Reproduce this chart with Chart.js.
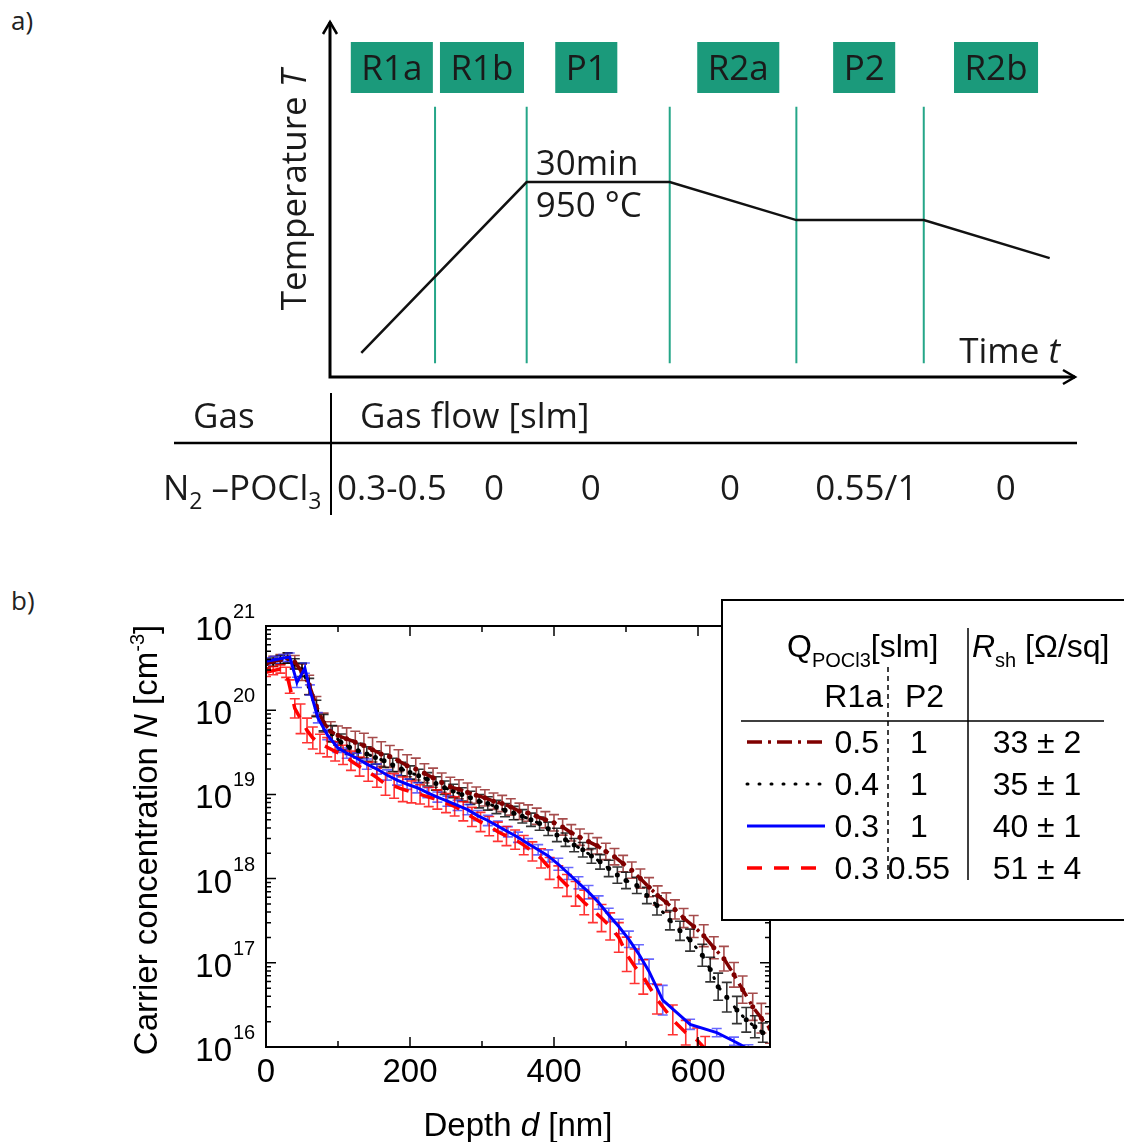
<!DOCTYPE html>
<html>
<head>
<meta charset="utf-8">
<script src="https://cdn.jsdelivr.net/npm/chart.js@4.4.1/dist/chart.umd.min.js"></script>
<style>
body { margin: 0; background: #fff; }
#page { position: relative; width: 1124px; height: 1142px; overflow: hidden; }
.lbl { position: absolute; font-family: "Open Sans", sans-serif; font-size: 26px; color: #222; }
canvas { position: absolute; left: 0; }
</style>
</head>
<body>
<div id="page">
  <div class="lbl" style="left:11px;top:2px">a)</div>
  <div class="lbl" style="left:11px;top:582px">b)</div>
  <canvas id="tempChart" width="1124" height="540" style="top:0"></canvas>
  <canvas id="profileChart" width="1124" height="562" style="top:580px"></canvas>
</div>
<script>
// ---- panel a: process scheme (time / temperature in arbitrary units 0-100)
var phaseNames = ['R1a', 'R1b', 'P1', 'R2a', 'P2', 'R2b'];
var phaseMid = [8.3, 20.4, 34.4, 54.8, 71.7, 89.4];
var gasFlow = ['0.3-0.5', '0', '0', '0', '0.55/1', '0'];
var gasFlowAt = [8.3, 22.0, 35.0, 53.7, 72.0, 90.7];
var profileTime = [4.2, 26.4, 45.6, 62.6, 79.7, 96.6];
var profileTemp = [6.8, 54.9, 54.9, 44.2, 44.2, 33.5];
var boundaryTime = [14.1, 26.4, 45.6, 62.6, 79.7];
var boundaryTemp = [3.9, 76.1];

// ---- panel b: carrier concentration profiles
// Q_POCl3 R1a 0.5 / P2 1
var depth05 = [0, 10, 20, 30, 40, 50, 60, 70, 80, 90, 100,
  112, 124, 136, 148, 160, 172, 184, 196, 208, 220, 232, 244, 256, 268, 280, 292, 304, 316, 328,
  340, 352, 364, 376, 388, 400, 412, 424, 436, 448, 460, 472, 484, 496, 508, 520, 532, 544, 556, 568, 580,
  594, 608, 622, 636, 650, 662, 676, 688, 700];
var conc05 = [3.55e20, 3.8e20, 3.98e20, 4.17e20, 3.72e20, 2.82e20, 2.0e20, 1.12e20, 7.1e19, 5.6e19, 5.0e19,
  4.57e19, 4.17e19, 3.8e19, 3.39e19, 3.02e19, 2.82e19, 2.51e19, 2.19e19, 2.0e19, 1.78e19, 1.58e19, 1.38e19, 1.23e19, 1.15e19, 1.05e19, 9.8e18, 9.1e18, 8.3e18, 7.8e18,
  7.1e18, 6.3e18, 6.0e18, 5.5e18, 5.0e18, 4.6e18, 4.1e18, 3.5e18, 3.1e18, 2.75e18, 2.45e18, 2.1e18, 1.82e18, 1.51e18, 1.26e18, 1.0e18, 7.9e17, 6.3e17, 5.2e17, 4.3e17, 3.4e17,
  2.7e17, 2.1e17, 1.51e17, 1.12e17, 7.2e16, 4.8e16, 3.0e16, 2.2e16, 1.66e16];
var err05 = [0.15, 0.15, 0.15, 0.15, 0.2, 0.25, 0.3, 0.3, 0.3, 0.3, 0.3,
  0.35, 0.35, 0.4, 0.4, 0.4, 0.35, 0.35, 0.35, 0.35, 0.3, 0.3, 0.3, 0.3, 0.3, 0.3, 0.25, 0.25, 0.25, 0.25,
  0.25, 0.25, 0.25, 0.25, 0.25, 0.25, 0.25, 0.25, 0.25, 0.25, 0.25, 0.25, 0.25, 0.25, 0.25, 0.3, 0.3, 0.3, 0.3, 0.3, 0.3,
  0.35, 0.35, 0.35, 0.4, 0.4, 0.45, 0.45, 0.5, 0.5];

// Q_POCl3 R1a 0.4 / P2 1
var depth04 = [0, 10, 20, 30, 40, 50, 60, 70, 80,
  92, 104, 116, 128, 140, 152, 164, 176, 188, 200, 212, 224, 236, 248, 260, 272, 284, 296, 308, 320,
  332, 344, 356, 368, 380, 392, 404, 416, 428, 440, 452, 464, 476, 488, 500,
  515, 529, 543, 561, 575, 589, 606, 617, 628, 640, 654, 667, 679, 690];
var conc04 = [3.55e20, 3.72e20, 3.98e20, 4.17e20, 3.55e20, 3.02e20, 1.91e20, 1.05e20, 7.1e19,
  5.25e19, 4.17e19, 3.63e19, 3.31e19, 3.02e19, 2.75e19, 2.51e19, 2.24e19, 2.0e19, 1.82e19, 1.66e19, 1.51e19, 1.35e19, 1.2e19, 1.1e19, 1.0e19, 9.1e18, 8.3e18, 7.8e18, 7.1e18,
  6.5e18, 6.0e18, 5.5e18, 5.0e18, 4.5e18, 3.9e18, 3.3e18, 2.9e18, 2.5e18, 2.2e18, 1.86e18, 1.58e18, 1.32e18, 1.1e18, 9.5e17,
  8.3e17, 6.3e17, 4.8e17, 3.2e17, 2.4e17, 1.86e17, 1.23e17, 8.3e16, 5.2e16, 3.9e16, 2.75e16, 2.1e16, 1.74e16, 1.48e16];
var err04 = [0.12, 0.12, 0.12, 0.15, 0.15, 0.2, 0.25, 0.25, 0.25,
  0.25, 0.25, 0.22, 0.22, 0.22, 0.2, 0.2, 0.2, 0.2, 0.2, 0.2, 0.2, 0.2, 0.2, 0.2, 0.2, 0.2, 0.2, 0.2, 0.2,
  0.2, 0.2, 0.2, 0.2, 0.2, 0.2, 0.2, 0.2, 0.2, 0.22, 0.22, 0.22, 0.25, 0.25, 0.25,
  0.25, 0.25, 0.3, 0.3, 0.3, 0.35, 0.35, 0.4, 0.45, 0.5, 0.45, 0.4, 0.35, 0.3];

// Q_POCl3 R1a 0.3 / P2 1
var depth03 = [0, 12, 24, 33, 43, 54, 61, 72, 85, 99, 112, 126, 140, 154, 168, 182, 196, 210, 224, 238,
  252, 266, 280, 294, 308, 322, 336, 350, 364, 378, 392, 406, 420, 434, 448, 462, 476, 490, 504, 518,
  532, 551, 589, 626, 650, 670];
var conc03 = [3.8e20, 3.98e20, 4.17e20, 4.27e20, 2.14e20, 3.16e20, 1.74e20, 8.13e19, 5.13e19, 3.63e19, 3.09e19, 2.69e19, 2.29e19, 2.0e19, 1.7e19, 1.48e19, 1.32e19, 1.2e19, 1.05e19, 9.3e18,
  8.3e18, 7.4e18, 6.6e18, 5.6e18, 4.9e18, 4.2e18, 3.6e18, 3.1e18, 2.6e18, 2.2e18, 1.86e18, 1.48e18, 1.15e18, 8.9e17, 6.9e17, 5.2e17, 3.7e17, 2.7e17, 1.9e17, 1.26e17,
  7.9e16, 3.6e16, 1.86e16, 1.48e16, 1.17e16, 9.5e15];
var err03 = [0.1, 0.1, 0.1, 0.12, 0.15, 0.15, 0.15, 0.15, 0.15, 0.15, 0.15, 0.15, 0.15, 0.15, 0.15, 0.15, 0.15, 0.15, 0.15, 0.15,
  0.15, 0.15, 0.15, 0.15, 0.15, 0.15, 0.15, 0.15, 0.15, 0.15, 0.18, 0.18, 0.18, 0.18, 0.2, 0.2, 0.2, 0.22, 0.25, 0.3,
  0.4, 0.5, 0.15, 0.12, 0.12, 0.12];

// Q_POCl3 R1a 0.3 / P2 0.55
var depth03b = [0, 10, 20, 28, 33, 40, 48, 57, 65, 75, 85, 96, 107, 118, 130, 142, 154, 166, 178, 190,
  202, 214, 226, 238, 250, 262, 274, 286, 298, 310, 322, 334, 346, 358, 370, 382, 394, 406, 418, 430,
  442, 454, 466, 478, 490, 501, 512, 524, 543, 565, 583, 599, 610];
var conc03b = [2.82e20, 2.95e20, 3.09e20, 2.82e20, 1.91e20, 1.05e20, 7.9e19, 5.75e19, 4.68e19, 3.98e19, 3.63e19, 3.24e19, 2.95e19, 2.51e19, 2.14e19, 1.86e19, 1.58e19, 1.32e19, 1.26e19, 1.15e19,
  1.07e19, 1.0e19, 9.3e18, 8.7e18, 7.9e18, 7.2e18, 6.3e18, 5.4e18, 4.7e18, 4.2e18, 3.6e18, 3.2e18, 2.9e18, 2.5e18, 2.1e18, 1.74e18, 1.32e18, 1.05e18, 8.3e17, 6.6e17,
  5.2e17, 4.2e17, 3.4e17, 2.7e17, 2.0e17, 1.26e17, 9.1e16, 6.8e16, 3.7e16, 2.1e16, 1.48e16, 1.2e16, 9.5e15];
var err03b = [0.12, 0.12, 0.12, 0.15, 0.2, 0.3, 0.5, 0.4, 0.35, 0.3, 0.3, 0.3, 0.3, 0.3, 0.3, 0.3, 0.3, 0.35, 0.4, 0.4,
  0.35, 0.3, 0.3, 0.3, 0.3, 0.3, 0.3, 0.3, 0.3, 0.3, 0.3, 0.3, 0.3, 0.3, 0.3, 0.3, 0.35, 0.35, 0.35, 0.4,
  0.4, 0.4, 0.45, 0.45, 0.5, 0.6, 0.6, 0.6, 0.5, 0.5, 0.4, 0.4, 0.4];

var xTicks = [0, 200, 400, 600];
var yDecades = [16, 17, 18, 19, 20, 21];
var legendR1a = ['0.5', '0.4', '0.3', '0.3'];
var legendP2 = ['1', '1', '1', '0.55'];
var legendRsh = ['33 \u00b1 2', '35 \u00b1 1', '40 \u00b1 1', '51 \u00b1 4'];

// draws a run of text pieces [text, font, dy] one after the other
function richText(ctx, parts, x, y, align) {
  var w = 0;
  parts.forEach(function (p) { ctx.font = p[1]; w += ctx.measureText(p[0]).width; });
  var cx = align === 'center' ? x - w / 2 : (align === 'right' ? x - w : x);
  ctx.textAlign = 'left';
  ctx.textBaseline = 'alphabetic';
  parts.forEach(function (p) {
    ctx.font = p[1];
    ctx.fillText(p[0], cx, y + (p[2] || 0));
    cx += ctx.measureText(p[0]).width;
  });
}

// ================= panel a =================
var teal = '#1b9a7b';
var fa = '35px "Open Sans"';
var faSub = '23px "Open Sans"';

var schemePlugin = {
  id: 'scheme',
  afterDraw: function (chart) {
    var ctx = chart.ctx, a = chart.chartArea, xs = chart.scales.x;
    ctx.save();
    // axes with arrow heads
    ctx.strokeStyle = '#000';
    ctx.lineWidth = 3;
    ctx.beginPath();
    ctx.moveTo(a.left, a.bottom); ctx.lineTo(a.left, a.top);
    ctx.moveTo(a.left - 1.5, a.bottom); ctx.lineTo(a.right, a.bottom);
    ctx.stroke();
    ctx.lineWidth = 2.5;
    ctx.beginPath();
    ctx.moveTo(a.left - 7, a.top + 12); ctx.lineTo(a.left, a.top); ctx.lineTo(a.left + 7, a.top + 12);
    ctx.moveTo(a.right - 12, a.bottom - 7); ctx.lineTo(a.right, a.bottom); ctx.lineTo(a.right - 12, a.bottom + 7);
    ctx.stroke();

    // phase boxes
    ctx.font = fa;
    ctx.textAlign = 'center';
    ctx.textBaseline = 'alphabetic';
    phaseNames.forEach(function (n, i) {
      var cx = xs.getPixelForValue(phaseMid[i]);
      var w = ctx.measureText(n).width + 21;
      ctx.fillStyle = teal;
      ctx.fillRect(cx - w / 2, 42, w, 51);
      ctx.fillStyle = '#1a1a1a';
      ctx.fillText(n, cx, 80);
    });

    ctx.fillStyle = '#1a1a1a';
    var plateauX = xs.getPixelForValue(profileTime[1]) + 9;
    richText(ctx, [['30min', fa]], plateauX, 175, 'left');
    richText(ctx, [['950 \u00b0C', fa]], plateauX, 217, 'left');
    richText(ctx, [['Time ', fa], ['t', 'italic ' + fa]], 1060, 363, 'right');

    ctx.save();
    ctx.translate(306, 190);
    ctx.rotate(-Math.PI / 2);
    richText(ctx, [['Temperature ', fa], ['T', 'italic ' + fa]], 0, 0, 'center');
    ctx.restore();

    // gas table
    richText(ctx, [['Gas', fa]], 193, 428, 'left');
    richText(ctx, [['Gas flow [slm]', fa]], 360, 428, 'left');
    ctx.lineWidth = 2.5;
    ctx.beginPath(); ctx.moveTo(174, 443); ctx.lineTo(1077, 443); ctx.stroke();
    ctx.lineWidth = 2;
    ctx.beginPath(); ctx.moveTo(331, 393); ctx.lineTo(331, 515); ctx.stroke();
    richText(ctx, [['N', fa], ['2', faSub, 9], [' \u2013POCl', fa], ['3', faSub, 9]], 163, 500, 'left');
    gasFlow.forEach(function (g, i) {
      richText(ctx, [[g, fa]], xs.getPixelForValue(gasFlowAt[i]), 500, 'center');
    });
    ctx.restore();
  }
};

var schemeSets = [{
  data: profileTime.map(function (t, i) { return { x: t, y: profileTemp[i] }; }),
  borderColor: '#111', borderWidth: 2.5, pointRadius: 0, showLine: true, tension: 0
}];
boundaryTime.forEach(function (t) {
  schemeSets.push({
    data: [{ x: t, y: boundaryTemp[0] }, { x: t, y: boundaryTemp[1] }],
    borderColor: '#25a688', borderWidth: 2, pointRadius: 0, showLine: true
  });
});

new Chart(document.getElementById('tempChart'), {
  type: 'scatter',
  data: { datasets: schemeSets },
  options: {
    responsive: false,
    animation: false,
    events: [],
    layout: { padding: { left: 330, right: 49, top: 22, bottom: 163 } },
    plugins: { legend: { display: false }, tooltip: { enabled: false } },
    scales: {
      x: { type: 'linear', min: 0, max: 100, display: false },
      y: { type: 'linear', min: 0, max: 100, display: false }
    }
  },
  plugins: [schemePlugin]
});

// ================= panel b =================
var fb = '33px "Liberation Sans"';
var fl = '32px "Liberation Sans"';
var fs = '20px "Liberation Sans"';

var series = [
  { label: '0.5/1', d: depth05, n: conc05, e: err05, color: '#800000', bar: 'rgba(128,0,0,0.7)', width: 3.5, dash: [15, 6, 3, 6], cap: 'butt', radius: 2.5, order: 1 },
  { label: '0.4/1', d: depth04, n: conc04, e: err04, color: '#000000', bar: 'rgba(0,0,0,0.8)', width: 3, dash: [1, 11], cap: 'round', radius: 2.5, order: 2 },
  { label: '0.3/1', d: depth03, n: conc03, e: err03, color: '#0000ff', bar: 'rgba(40,40,255,0.7)', width: 3, dash: [], cap: 'butt', radius: 0, order: 0 },
  { label: '0.3/0.55', d: depth03b, n: conc03b, e: err03b, color: '#ff0000', bar: 'rgba(255,0,0,0.8)', width: 3.5, dash: [15, 12], cap: 'butt', radius: 0, order: 3 }
];

var profileSets = series.map(function (s) {
  return {
    label: s.label,
    data: s.d.map(function (v, i) { return { x: v, y: s.n[i] }; }),
    errors: s.e,
    errorColor: s.bar,
    borderColor: s.color,
    backgroundColor: s.color,
    borderWidth: s.width,
    borderDash: s.dash,
    borderCapStyle: s.cap,
    pointRadius: s.radius,
    pointBorderWidth: 0,
    pointBackgroundColor: s.color,
    fill: false,
    tension: 0,
    order: s.order
  };
});

var profilePlugin = {
  id: 'profileDecor',
  beforeDatasetsDraw: function (chart) {
    var ctx = chart.ctx, a = chart.chartArea, x = chart.scales.x, y = chart.scales.y;
    ctx.save();
    ctx.beginPath();
    ctx.rect(a.left, a.top, a.right - a.left, a.bottom - a.top);
    ctx.clip();
    chart.data.datasets.forEach(function (ds) {
      ctx.strokeStyle = ds.errorColor;
      ctx.lineWidth = 1.6;
      ds.data.forEach(function (p, i) {
        var e = ds.errors[i];
        if (e == null) return;
        var px = x.getPixelForValue(p.x);
        var yt = y.getPixelForValue(p.y * (1 + e));
        var yb = y.getPixelForValue(p.y / (1 + e));
        ctx.beginPath();
        ctx.moveTo(px, yt); ctx.lineTo(px, yb);
        ctx.moveTo(px - 5, yt); ctx.lineTo(px + 5, yt);
        ctx.moveTo(px - 5, yb); ctx.lineTo(px + 5, yb);
        ctx.stroke();
      });
    });
    ctx.restore();
  },
  afterDraw: function (chart) {
    var ctx = chart.ctx, a = chart.chartArea, x = chart.scales.x, y = chart.scales.y;
    ctx.save();
    ctx.strokeStyle = '#000';
    ctx.fillStyle = '#000';

    // inward ticks
    ctx.lineWidth = 1.5;
    ctx.beginPath();
    for (var v = 0; v <= 700; v += 100) {
      var px = x.getPixelForValue(v), len = v % 200 === 0 ? 10 : 6;
      ctx.moveTo(px, a.bottom); ctx.lineTo(px, a.bottom - len);
      ctx.moveTo(px, a.top); ctx.lineTo(px, a.top + len);
    }
    yDecades.forEach(function (d) {
      for (var m = 1; m <= 9; m++) {
        if (d === 21 && m > 1) break;
        var py = y.getPixelForValue(m * Math.pow(10, d)), l = m === 1 ? 10 : 5;
        ctx.moveTo(a.left, py); ctx.lineTo(a.left + l, py);
        ctx.moveTo(a.right, py); ctx.lineTo(a.right - l, py);
      }
    });
    ctx.stroke();

    // frame
    ctx.lineWidth = 2;
    ctx.strokeRect(a.left, a.top, a.right - a.left, a.bottom - a.top);

    // y tick labels 10^n
    yDecades.forEach(function (d) {
      var py = y.getPixelForValue(Math.pow(10, d));
      richText(ctx, [['10', fb]], 232, py + 14, 'right');
      richText(ctx, [[String(d), fs]], 233, py - 8, 'left');
    });

    // axis titles
    richText(ctx, [['Depth ', fb], ['d', 'italic ' + fb], [' [nm]', fb]], 518, 556, 'center');
    ctx.save();
    ctx.translate(157, 260);
    ctx.rotate(-Math.PI / 2);
    richText(ctx, [['Carrier concentration ', fb], ['N', 'italic ' + fb], [' [cm', fb], ['-3', fs, -13], [']', fb]], 0, 0, 'center');
    ctx.restore();

    // legend table
    ctx.fillStyle = '#fff';
    ctx.fillRect(722, 20, 420, 320);
    ctx.lineWidth = 2;
    ctx.strokeRect(722, 20, 420, 320);
    ctx.fillStyle = '#000';
    richText(ctx, [['Q', fl], ['POCl3', fs, 10], ['[slm]', fl]], 787, 77, 'left');
    richText(ctx, [['R', 'italic ' + fl], ['sh', fs, 10], [' [\u03a9/sq]', fl]], 972, 77, 'left');
    richText(ctx, [['R1a', fl]], 883, 127, 'right');
    richText(ctx, [['P2', fl]], 905, 127, 'left');
    ctx.lineWidth = 1.5;
    ctx.beginPath();
    ctx.moveTo(968, 48); ctx.lineTo(968, 300);
    ctx.moveTo(741, 141); ctx.lineTo(1104, 141);
    ctx.stroke();
    ctx.setLineDash([5, 4]);
    ctx.beginPath(); ctx.moveTo(888, 87); ctx.lineTo(888, 302); ctx.stroke();
    ctx.setLineDash([]);

    series.forEach(function (s, i) {
      var yc = 162 + i * 42;
      ctx.save();
      ctx.strokeStyle = s.color;
      ctx.lineWidth = s.width;
      ctx.lineCap = s.cap;
      ctx.setLineDash(s.dash);
      ctx.beginPath(); ctx.moveTo(747, yc); ctx.lineTo(825, yc); ctx.stroke();
      ctx.restore();
      richText(ctx, [[legendR1a[i], fl]], 879, yc + 11, 'right');
      richText(ctx, [[legendP2[i], fl]], 919, yc + 11, 'center');
      richText(ctx, [[legendRsh[i], fl]], 1037, yc + 11, 'center');
    });
    ctx.restore();
  }
};

new Chart(document.getElementById('profileChart'), {
  type: 'line',
  data: { datasets: profileSets },
  options: {
    responsive: false,
    animation: false,
    events: [],
    layout: { padding: { left: 266, right: 354, top: 46, bottom: 0 } },
    plugins: { legend: { display: false }, tooltip: { enabled: false } },
    scales: {
      x: {
        type: 'linear', min: 0, max: 700,
        grid: { display: false, drawTicks: false },
        border: { display: false },
        afterBuildTicks: function (s) { s.ticks = xTicks.map(function (v) { return { value: v }; }); },
        ticks: { color: '#000', font: { family: '"Liberation Sans"', size: 33 }, padding: 6, maxRotation: 0 },
        afterFit: function (s) { s.height = 95; }
      },
      y: { type: 'logarithmic', min: 1e16, max: 1e21, display: false }
    }
  },
  plugins: [profilePlugin]
});
</script>
</body>
</html>
